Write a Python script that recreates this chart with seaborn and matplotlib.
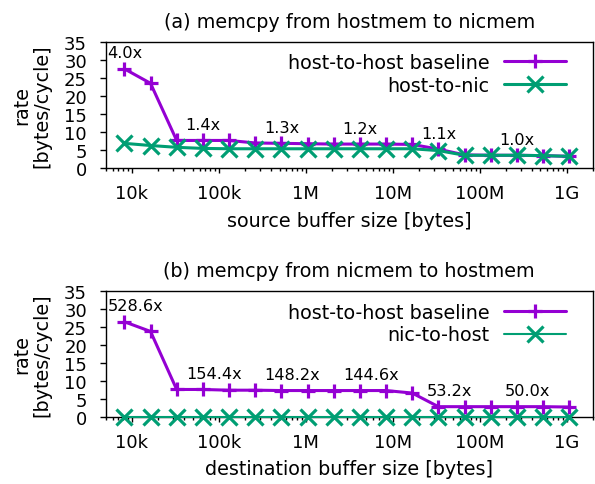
import numpy as np
import pandas as pd
import matplotlib
matplotlib.use("Agg")
import matplotlib.pyplot as plt
import matplotlib.ticker as mticker
import seaborn as sns

# buffer sizes in bytes (8 KiB .. 1 GiB)
sizes = [8192, 16384, 32768, 65536, 131072, 262144, 524288, 1048576,
         2097152, 4194304, 8388608, 16777216, 33554432, 67108864,
         134217728, 268435456, 536870912, 1073741824]

# (a) memcpy from hostmem to nicmem, rate in bytes/cycle
a_baseline = [27.5, 23.5, 7.7, 7.7, 7.7, 7.0, 6.9, 6.8, 6.7,
              6.7, 6.7, 6.6, 5.3, 3.7, 3.6, 3.6, 3.5, 3.3]
a_nic = [6.9, 6.3, 5.8, 5.5, 5.4, 5.4, 5.4, 5.4, 5.4,
         5.4, 5.4, 5.4, 4.9, 3.6, 3.6, 3.6, 3.5, 3.3]
a_ratio_idx = [0, 3, 6, 9, 12, 15]
a_ratio_txt = ["4.0x", "1.4x", "1.3x", "1.2x", "1.1x", "1.0x"]

# (b) memcpy from nicmem to hostmem
b_baseline = [26.5, 23.8, 7.6, 7.6, 7.4, 7.4, 7.3, 7.3, 7.3,
              7.3, 7.3, 6.6, 2.8, 2.8, 2.8, 2.8, 2.8, 2.7]
b_nic = [0.05] * 18
b_ratio_idx = [0, 3, 6, 9, 12, 15]
b_ratio_txt = ["528.6x", "154.4x", "148.2x", "144.6x", "53.2x", "50.0x"]

xtick_vals = [1e4, 1e5, 1e6, 1e7, 1e8, 1e9]
xtick_txt = ["10k", "100k", "1M", "10M", "100M", "1G"]
ytick_vals = [0, 5, 10, 15, 20, 25, 30, 35]

PURPLE = "#9400D3"
GREEN = "#009E73"
TXT = 13.8
TICK = 13
ANN = 11.6

sns.set_style("ticks")
plt.rcParams["font.family"] = ["DejaVu Sans"]
plt.rcParams["font.size"] = TXT
for key in ("text.color", "axes.labelcolor", "xtick.color", "ytick.color",
            "axes.edgecolor"):
    plt.rcParams[key] = "black"

W, H = 595, 485
fig = plt.figure(figsize=(W / 100, H / 100), dpi=100)


def px_axes(left, top, right, bottom):
    return fig.add_axes([left / W, 1 - bottom / H, (right - left) / W,
                         (bottom - top) / H])


ax_a = px_axes(105.7, 42.7, 592.7, 169.3)
ax_b = px_axes(105.7, 292.3, 592.7, 417.7)


def draw_panel(ax, base, other, other_label, other_lw, ratio_idx, ratio_txt,
               ratio_dx, title, xlabel):
    hpx = ax.get_position().height * H
    wpx = ax.get_position().width * W
    df = pd.DataFrame({"size": sizes, "base": base, "other": other})
    sns.lineplot(data=df, x="size", y="base", ax=ax, color=PURPLE,
                 linewidth=2.2, marker="+", markersize=10, mew=2.3,
                 mec=PURPLE, mfc=PURPLE, label="host-to-host baseline",
                 clip_on=False, zorder=3)
    sns.lineplot(data=df, x="size", y="other", ax=ax, color=GREEN,
                 linewidth=other_lw, marker="x", markersize=11.5, mew=2.3,
                 mec=GREEN, mfc=GREEN, label=other_label, clip_on=False,
                 zorder=4)
    ax.set_xscale("log")
    ax.set_xlim(5e3, 2e9)
    ax.set_ylim(0, 35)
    ax.xaxis.set_major_locator(mticker.FixedLocator(xtick_vals))
    ax.xaxis.set_major_formatter(mticker.FixedFormatter(xtick_txt))
    ax.xaxis.set_minor_locator(mticker.LogLocator(base=10, subs=np.arange(2, 10)))
    ax.xaxis.set_minor_formatter(mticker.NullFormatter())
    ax.set_yticks(ytick_vals)
    ax.tick_params(axis="x", which="major", direction="out", length=3.6,
                   width=1, labelsize=TICK, pad=8, colors="black")
    ax.tick_params(axis="x", which="minor", direction="out", length=2.2,
                   width=1, colors="black")
    ax.tick_params(axis="y", which="major", direction="out", length=4.5,
                   width=1, labelsize=TICK, pad=9, colors="black")
    for s in ax.spines.values():
        s.set_visible(True)
        s.set_linewidth(1.0)
        s.set_color("black")
    # speedup ratio labels above selected baseline points
    for i, t in zip(ratio_idx, ratio_txt):
        ax.annotate(t, (sizes[i], base[i]), xytext=(ratio_dx, 11.5),
                    textcoords="offset points", ha="center", va="center",
                    fontsize=ANN, color="black")
    ax.set_title(title, fontsize=TXT, y=1 + 20.7 / hpx, va="center", pad=0,
                 color="black")
    ax.set_xlabel(xlabel, fontsize=TXT, color="black")
    ax.xaxis.set_label_coords(0.5, -52 / hpx)
    ax.xaxis.label.set_va("center")
    ax.set_ylabel("rate\n[bytes/cycle]", fontsize=TXT, linespacing=1.05,
                  color="black")
    ax.yaxis.set_label_coords(-(105.7 - 32) / wpx, 0.5)
    ax.yaxis.label.set_va("center")
    leg = ax.legend(loc="upper right", frameon=False, markerfirst=False,
                    numpoints=1, handlelength=3.25, handletextpad=0.75,
                    labelspacing=0.2, fontsize=TXT, borderaxespad=0.0,
                    borderpad=0.3,
                    bbox_to_anchor=((566 + 5.8 - 105.7) / wpx, 1 - 5.5 / hpx))
    for t in leg.get_texts():
        t.set_color("black")


draw_panel(ax_a, a_baseline, a_nic, "host-to-nic", 2.2, a_ratio_idx,
           a_ratio_txt, 0, "(a) memcpy from hostmem to nicmem",
           "source buffer size [bytes]")
draw_panel(ax_b, b_baseline, b_nic, "nic-to-host", 1.5, b_ratio_idx,
           b_ratio_txt, 7.9, "(b) memcpy from nicmem to hostmem",
           "destination buffer size [bytes]")

fig.savefig("out.png", dpi=100)
